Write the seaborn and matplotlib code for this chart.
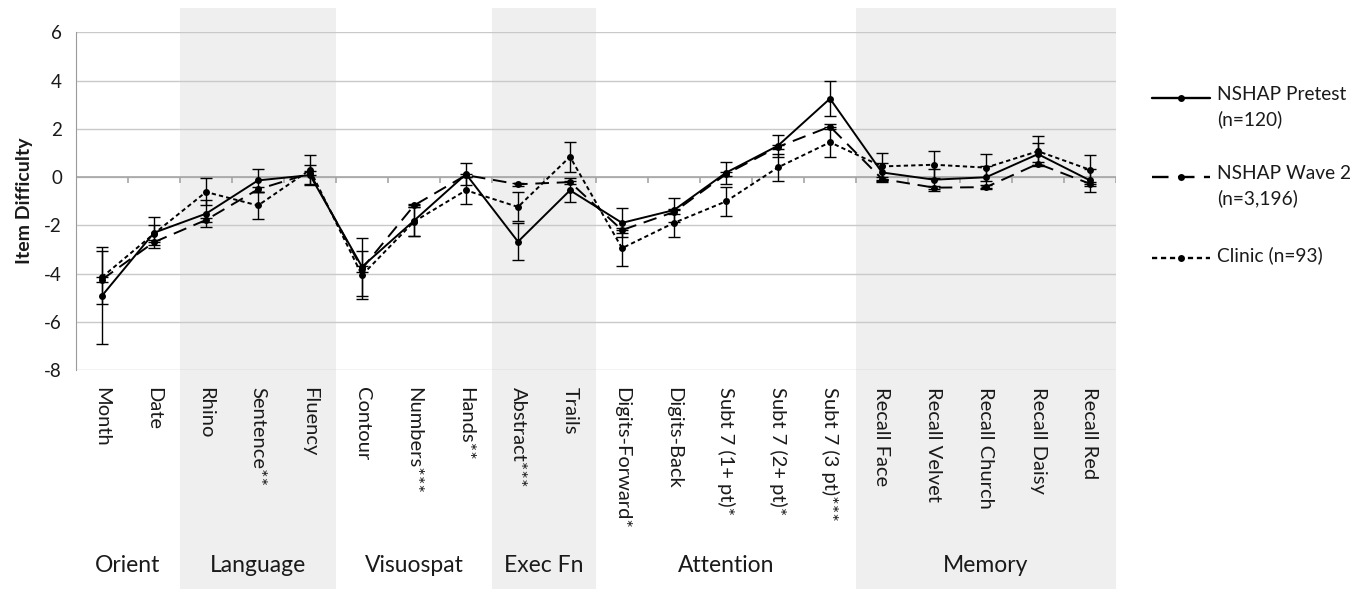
import numpy as np
import pandas as pd
import matplotlib.pyplot as plt
import matplotlib.transforms as mtransforms
from matplotlib.lines import Line2D
import seaborn as sns

# ── Data ─────────────────────────────────────────────────────
items = ['Month', 'Date', 'Rhino', 'Sentence**', 'Fluency', 'Contour',
         'Numbers***', 'Hands**', 'Abstract***', 'Trails', 'Digits-Forward*',
         'Digits-Back', 'Subt 7 (1+ pt)*', 'Subt 7 (2+ pt)*', 'Subt 7 (3 pt)***',
         'Recall Face', 'Recall Velvet', 'Recall Church', 'Recall Daisy', 'Recall Red']
groups      = ['Orient', 'Language', 'Visuospat', 'Exec Fn', 'Attention', 'Memory']
group_sizes = [2, 3, 3, 2, 5, 5]
shaded      = ['Language', 'Exec Fn', 'Memory']

series        = ['NSHAP Pretest', 'NSHAP Wave 2', 'Clinic']
legend_labels = ['NSHAP Pretest\n(n=120)', 'NSHAP Wave 2\n(n=3,196)', 'Clinic (n=93)']

pretest    = [-4.92, -2.31, -1.52, -0.14, 0.08, -3.72, -1.81, 0.12, -2.68, -0.55,
              -1.90, -1.37, 0.18, 1.30, 3.25, 0.19, -0.11, -0.01, 0.95, -0.14]
pretest_se = [2.00, 0.65, 0.55, 0.47, 0.40, 1.20, 0.65, 0.45, 0.77, 0.50,
              0.60, 0.50, 0.46, 0.45, 0.72, 0.40, 0.46, 0.45, 0.45, 0.47]
wave2      = [-4.25, -2.70, -1.78, -0.51, 0.15, -3.80, -1.18, 0.08, -0.30, -0.21,
              -2.20, -1.45, 0.12, 1.25, 2.09, -0.08, -0.44, -0.42, 0.55, -0.28]
wave2_se   = [0.12, 0.10, 0.10, 0.10, 0.08, 0.12, 0.08, 0.06, 0.06, 0.06,
              0.10, 0.08, 0.08, 0.08, 0.10, 0.08, 0.07, 0.07, 0.07, 0.08]
clinic     = [-4.15, -2.35, -0.62, -1.18, 0.30, -4.07, -1.85, -0.55, -1.24, 0.84,
              -2.95, -1.90, -1.01, 0.40, 1.44, 0.44, 0.51, 0.39, 1.07, 0.30]
clinic_se  = [1.10, 0.35, 0.56, 0.58, 0.60, 1.00, 0.60, 0.57, 0.60, 0.62,
              0.74, 0.58, 0.60, 0.57, 0.62, 0.57, 0.56, 0.56, 0.62, 0.60]

# ── Style ────────────────────────────────────────────────────
W, H = 1368, 589
sns.set_style('white')
plt.rcParams['font.family'] = ['Lato', 'DejaVu Sans']
plt.rcParams['axes.unicode_minus'] = False
TXT = '#1a1a1a'
GRID = '#c9c9c9'
SHADE = '#efefef'

dash_map   = {'NSHAP Pretest': '', 'NSHAP Wave 2': (7, 4), 'Clinic': (2.2, 1.6)}
marker_map = {s: 'o' for s in series}

pos = np.arange(len(items))
df = pd.DataFrame({
    'pos':    np.tile(pos, 3),
    'value':  pretest + wave2 + clinic,
    'se':     pretest_se + wave2_se + clinic_se,
    'series': np.repeat(series, len(items)),
})

fig = plt.figure(figsize=(W / 100, H / 100), dpi=100)
ax = fig.add_axes([76 / W, 1 - 370 / H, 1040 / W, 337.7 / H])

# shaded domain columns (run from top of plot to bottom of figure)
start = 0
for g, n in zip(groups, group_sizes):
    if g in shaded:
        ax.axvspan(start - 0.5, start + n - 0.5, ymin=-0.7, ymax=1.071,
                   color=SHADE, lw=0, zorder=0, clip_on=False)
    start += n

sns.lineplot(data=df, x='pos', y='value', style='series', style_order=series,
             dashes=dash_map, markers=marker_map, color='black', lw=1.4,
             markersize=5, markeredgewidth=0, legend=False, errorbar=None,
             sort=False, ax=ax, zorder=4)

for s in series:
    d = df[df['series'] == s]
    ax.errorbar(d['pos'], d['value'], yerr=d['se'], fmt='none', ecolor='black',
                elinewidth=1, capsize=4, capthick=1, zorder=3)

# axes
ax.set_xlim(-0.5, len(items) - 0.5)
ax.set_ylim(-8, 6)
ax.set_yticks(np.arange(-8, 7, 2))
ax.yaxis.grid(True, color=GRID, lw=1)
ax.set_axisbelow(True)
for sp in ['top', 'right', 'bottom']:
    ax.spines[sp].set_visible(False)
ax.spines['left'].set_color('#9a9a9a')
ax.tick_params(axis='y', direction='out', length=6, color='#9a9a9a',
               labelsize=13.5, labelcolor=TXT, pad=4)
ax.set_xticks(pos)
ax.set_xticklabels(items, rotation=270, ha='center', va='top')
ax.tick_params(axis='x', length=0, pad=12, labelsize=14.5, labelcolor=TXT)
ax.set_xlabel('')
ax.set_ylabel('Item Difficulty', fontsize=14, fontweight='bold', color=TXT, labelpad=8)

# zero line with category boundary ticks
ax.axhline(0, color='#a6a6a6', lw=1.2, zorder=2)
bounds = np.arange(len(items) + 1) - 0.5
ax.vlines(bounds[1:], -0.25, 0, color='#a6a6a6', lw=1.2, zorder=2)

# domain labels under the item labels
trans = mtransforms.blended_transform_factory(ax.transData, fig.transFigure)
start = 0
for g, n in zip(groups, group_sizes):
    ax.text(start + (n - 1) / 2, 1 - 565 / H, g, transform=trans, ha='center',
            va='center', fontsize=16.5, color=TXT, clip_on=False)
    start += n

# legend (first text line aligned with the line sample)
leg_y = [98, 177, 258]
for s, lab, y in zip(series, legend_labels, leg_y):
    yf = 1 - y / H
    fig.add_artist(Line2D([1152 / W, 1210 / W], [yf, yf], color='black', lw=1.7,
                          dashes=dash_map[s] if dash_map[s] else (None, None),
                          transform=fig.transFigure))
    fig.add_artist(Line2D([1181 / W], [yf], marker='o', ms=5, mew=0,
                          color='black', transform=fig.transFigure))
    fig.text(1217 / W, 1 - (y - 12) / H, lab, ha='left', va='top',
             fontsize=13.8, color=TXT, linespacing=1.5)

fig.savefig('out.png', dpi=100)
